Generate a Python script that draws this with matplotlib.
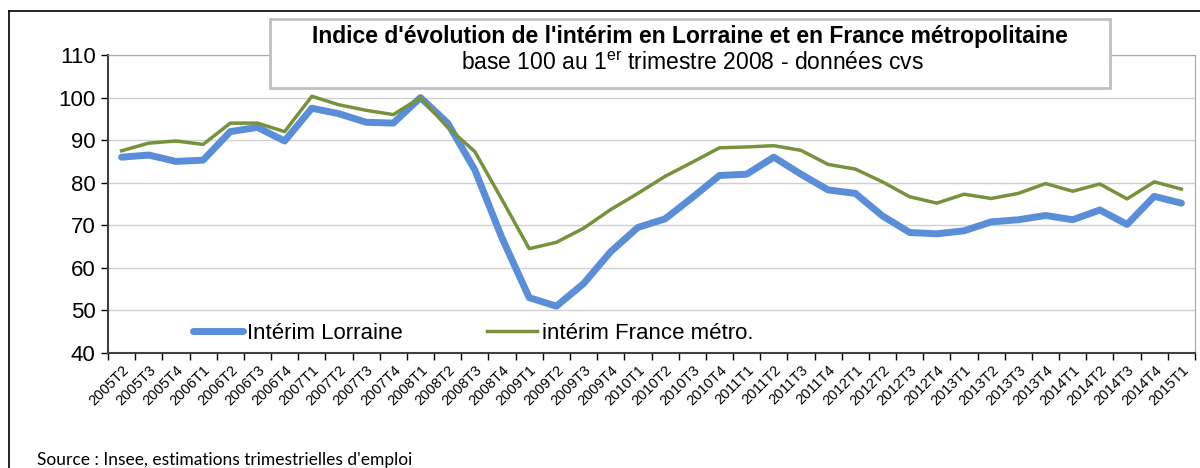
import matplotlib
matplotlib.use("Agg")
import matplotlib.pyplot as plt
from matplotlib.patches import Rectangle
from matplotlib.lines import Line2D

plt.rcParams['font.family'] = ['Liberation Sans', 'DejaVu Sans']
plt.rcParams['mathtext.default'] = 'regular'

quarters = ['2005T2', '2005T3', '2005T4',
            '2006T1', '2006T2', '2006T3', '2006T4',
            '2007T1', '2007T2', '2007T3', '2007T4',
            '2008T1', '2008T2', '2008T3', '2008T4',
            '2009T1', '2009T2', '2009T3', '2009T4',
            '2010T1', '2010T2', '2010T3', '2010T4',
            '2011T1', '2011T2', '2011T3', '2011T4',
            '2012T1', '2012T2', '2012T3', '2012T4',
            '2013T1', '2013T2', '2013T3', '2013T4',
            '2014T1', '2014T2', '2014T3', '2014T4',
            '2015T1']

lorraine = [86.0, 86.5, 85.0, 85.3, 92.0, 93.0, 89.8, 97.5, 96.2, 94.2, 94.0,
            100.0, 94.0, 83.0, 67.0, 53.0, 51.0, 56.3, 63.8, 69.5, 71.5, 76.5,
            81.7, 82.0, 86.0, 82.0, 78.3, 77.5, 72.2, 68.3, 68.0, 68.7, 70.8,
            71.3, 72.3, 71.3, 73.6, 70.2, 76.8, 75.2]

france = [87.5, 89.3, 89.8, 89.0, 94.0, 94.0, 92.0, 100.3, 98.3, 97.0, 96.0,
          100.0, 93.0, 87.3, 76.0, 64.5, 66.0, 69.3, 73.7, 77.5, 81.5, 84.8,
          88.2, 88.4, 88.7, 87.6, 84.3, 83.2, 80.2, 76.7, 75.2, 77.3, 76.3,
          77.5, 79.8, 78.0, 79.7, 76.2, 80.2, 78.5]

blue = '#5A8ED8'
green = '#76923C'

fig = plt.figure(figsize=(12, 4.68), dpi=100)
ax = fig.add_axes([108/1200, 1 - 353/468, (1195 - 108)/1200, (353 - 55)/468])

x = list(range(len(quarters)))
ax.plot(x, lorraine, color=blue, lw=5, solid_capstyle='round', solid_joinstyle='round',
        label='Intérim Lorraine', zorder=3)
ax.plot(x, france, color=green, lw=2.5, solid_joinstyle='round',
        label='intérim France métro.', zorder=4)

ax.set_xlim(-0.5, len(quarters) - 0.5)
ax.set_ylim(40, 110)
ax.set_yticks(range(40, 111, 10))
ax.tick_params(axis='y', labelsize=16, length=5, width=1, direction='out', pad=4)

ax.set_xticks([i - 0.5 for i in range(len(quarters) + 1)])
ax.set_xticklabels([])
ax.set_xticks(x, minor=True)
ax.set_xticklabels(quarters, minor=True, rotation=45, ha='right', rotation_mode='anchor',
                   fontsize=10.5)
ax.tick_params(axis='x', which='major', length=5, width=1, direction='out')
ax.tick_params(axis='x', which='minor', length=0, pad=7)

ax.grid(axis='y', color='#D0D0D0', lw=1)
ax.set_axisbelow(True)
for side in ['top', 'right']:
    ax.spines[side].set_color('#A6A6A6')
for side in ['left', 'bottom']:
    ax.spines[side].set_color('#404040')
    ax.spines[side].set_linewidth(1.5)

leg = ax.legend(loc='center left', bbox_to_anchor=(0.078, 0.067), ncol=2, frameon=False,
                fontsize=16, handlelength=2.25, handletextpad=0.2, columnspacing=3.8,
                borderpad=0, borderaxespad=0)

# outer chart frame
fig.add_artist(Line2D([9/1200, 1], [1 - 11/468, 1 - 11/468], color='black', lw=1.2))
fig.add_artist(Line2D([9/1200, 9/1200], [0, 1 - 11/468], color='black', lw=1.2))

# title box
fig.add_artist(Rectangle((270/1200, 1 - 88/468), 840/1200, 69/468, transform=fig.transFigure,
                         facecolor='white', edgecolor='#BFBFBF', lw=2, zorder=5))
fig.text(690/1200, 1 - 37/468, "Indice d'évolution de l'intérim en Lorraine et en France métropolitaine",
         ha='center', va='center', fontsize=16.5, fontweight='bold', zorder=6)
fig.text(692/1200, 1 - 64/468, r"base 100 au 1$^{er}$ trimestre 2008 - données cvs",
         ha='center', va='center', fontsize=16.5, zorder=6)

fig.text(37/1200, 1 - 460/468, "Source : Insee, estimations trimestrielles d'emploi",
         ha='left', va='center', fontsize=12.5, family=['Lato', 'DejaVu Sans'])

fig.savefig('out.png', dpi=100)
